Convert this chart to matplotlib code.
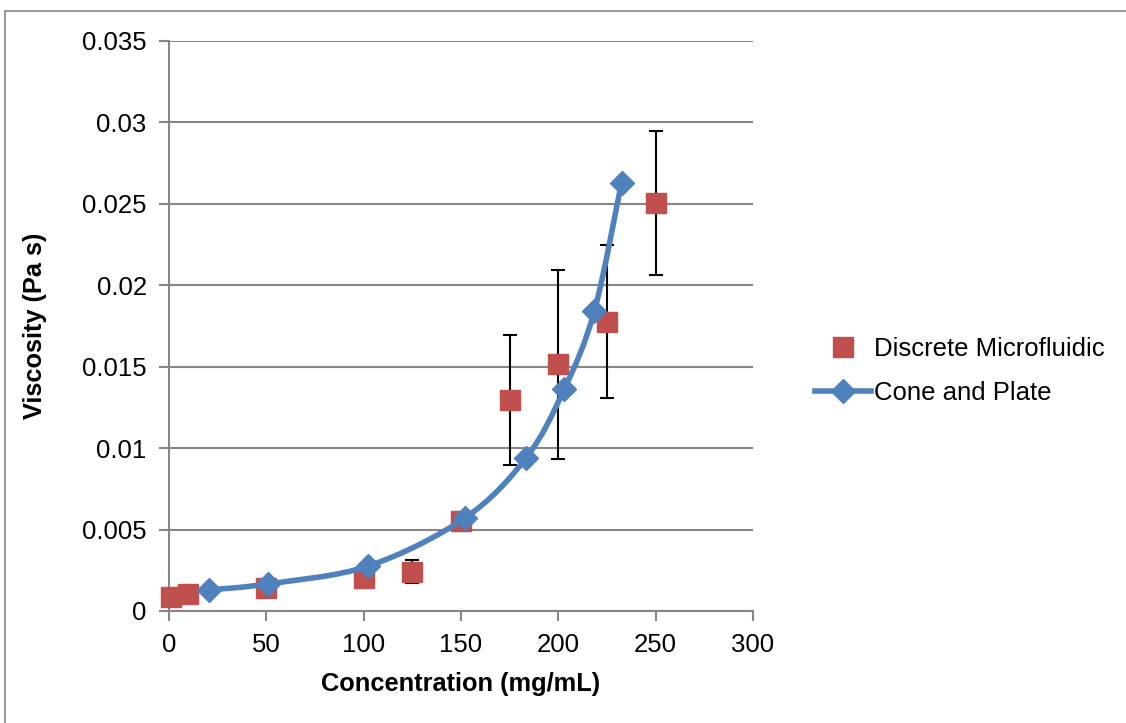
import numpy as np
import matplotlib.pyplot as plt
from matplotlib.path import Path
from matplotlib.patches import PathPatch, Rectangle
from matplotlib.lines import Line2D

plt.rcParams['font.family'] = ['Liberation Sans', 'DejaVu Sans']

# discrete microfluidic measurements (mean and error)
micro_conc = [1, 10, 50, 100, 125, 150, 175, 200, 225, 250]
micro_visc = [0.00088, 0.00104, 0.0014, 0.0020, 0.00242, 0.0055,
              0.01295, 0.01515, 0.01775, 0.02505]
micro_err = [0.0, 0.0, 0.0, 0.0, 0.0007, 0.0006,
             0.0040, 0.0058, 0.0047, 0.0044]

# cone and plate rheometer
cp_conc = [20.5, 51, 102.5, 152, 183.5, 203, 218.5, 232.5]
cp_visc = [0.00129, 0.00166, 0.00276, 0.0057, 0.0094, 0.0136, 0.0184, 0.0263]

red = '#C0504D'
blue = '#4F81BD'
grid_col = '#868686'


def smooth_path(x, y):
    """ cubic bezier path through the points (catmull-rom style tangents) """
    pts = np.column_stack([x, y])
    n = len(pts)
    verts = [pts[0]]
    codes = [Path.MOVETO]
    for i in range(n - 1):
        p0 = pts[max(i - 1, 0)]
        p1 = pts[i]
        p2 = pts[i + 1]
        p3 = pts[min(i + 2, n - 1)]
        c1 = p1 + (p2 - p0) / 6.0
        c2 = p2 - (p3 - p1) / 6.0
        verts += [c1, c2, p2]
        codes += [Path.CURVE4] * 3
    return Path(verts, codes)


fig = plt.figure(figsize=(11.26, 7.23), dpi=100)
ax = fig.add_axes([0.150, 0.155, 0.5187, 0.7883])

# outer chart frame
fig.patches.append(Rectangle((0.004, -0.05), 1.1, 1.035, transform=fig.transFigure,
                             fill=False, edgecolor=grid_col, linewidth=1.2))

ax.errorbar(micro_conc, micro_visc, yerr=micro_err, fmt='none', ecolor='black',
            elinewidth=1.5, capsize=5, capthick=1.5, zorder=2)
ax.plot(micro_conc, micro_visc, 's', color=red, markersize=14, zorder=3,
        clip_on=False)

ax.add_patch(PathPatch(smooth_path(cp_conc, cp_visc), facecolor='none',
                       edgecolor=blue, linewidth=4, zorder=4,
                       capstyle='round'))
ax.plot(cp_conc, cp_visc, 'D', color=blue, markersize=12.5, zorder=5)

ax.set_xlim(0, 300)
ax.set_ylim(0, 0.035)
ax.set_xticks(np.arange(0, 301, 50))
ax.set_yticks(np.arange(0, 0.0351, 0.005))
ax.set_yticklabels(['0', '0.005', '0.01', '0.015', '0.02', '0.025', '0.03', '0.035'])

ax.grid(axis='y', color=grid_col, linewidth=1.5)
ax.set_axisbelow(True)
for side in ['top', 'right']:
    ax.spines[side].set_visible(False)
for side in ['left', 'bottom']:
    ax.spines[side].set_color(grid_col)
    ax.spines[side].set_linewidth(1.5)
ax.tick_params(axis='both', colors=grid_col, length=7, width=1.5,
               labelsize=18.5, labelcolor='black')
ax.tick_params(axis='y', pad=9)
ax.tick_params(axis='x', pad=9)

ax.set_xlabel('Concentration (mg/mL)', fontsize=18.3, fontweight='bold', labelpad=11)
ax.set_ylabel('Viscosity (Pa s)', fontsize=18.3, fontweight='bold', labelpad=25)

handles = [Line2D([], [], linestyle='none', marker='s', color=red, markersize=14),
           Line2D([], [], color=blue, marker='D', markersize=12.5, linewidth=4)]
fig.legend(handles, ['Discrete Microfluidic', 'Cone and Plate'],
           loc='center left', bbox_to_anchor=(0.7035, 0.487), frameon=False,
           fontsize=18.5, handlelength=2.15, handletextpad=0.15, labelspacing=0.78)

fig.savefig('out.png', dpi=100)
